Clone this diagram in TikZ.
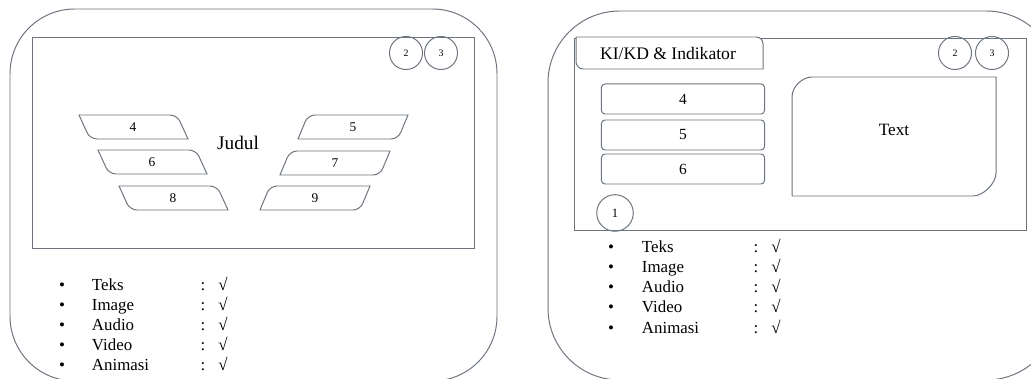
\documentclass[tikz,border=0pt]{standalone}
\usepackage{fontspec}
\setmainfont{Liberation Serif}
\usepackage{tikz}

\definecolor{linegray}{RGB}{108,116,126}

\tikzset{
  frame/.style={draw=linegray, line width=0.7pt},
  btn/.style={frame, circle, minimum size=23.5pt, inner sep=0pt, font=\fontsize{7}{8}\selectfont},
  num/.style={font=\fontsize{9.5}{11}\selectfont},
  item/.style={anchor=base, font=\fontsize{12}{14}\selectfont},
  menubox/.style={frame, rounded corners=2.5pt, minimum width=4.075cm, minimum height=0.75cm, inner sep=0pt, font=\fontsize{11}{13}\selectfont}
}

\begin{document}
\begin{tikzpicture}[x=0.025cm,y=-0.025cm]
\useasboundingbox (0,0) rectangle (1031,379);
\clip (0,0) rectangle (1031,379);

\draw[frame, rounded corners=46pt] (10,9) rectangle (497,381);
\draw[frame] (32,37) rectangle (474,248);
\node[btn] (l2) at (406,53) {2};
\node[btn] (l3) at (441,53) {3};
\node[font=\fontsize{13.7}{16}\selectfont] (judul) at (238,143) {Judul};

\foreach \n/\x/\y in {4/79/115, 6/98/150, 8/119/186}{
  \draw[frame] (\x,\y) -- (\x+91,\y) .. controls (\x+95,\y) and (\x+99.5,\y+3) .. (\x+101,\y+6.5) -- (\x+109,\y+24) -- (\x+18,\y+24) .. controls (\x+14,\y+24) and (\x+9.5,\y+21) .. (\x+8,\y+17.5) -- cycle;
  \node[num] (p\n) at (\x+54,\y+12) {\n};
}
\foreach \n/\x/\y in {5/308/115, 7/290/151, 9/270/186}{
  \draw[frame] (\x+7,\y) -- (\x+100,\y) -- (\x+92.7,\y+17.5) .. controls (\x+91.2,\y+21) and (\x+87,\y+24) .. (\x+83,\y+24) -- (\x-10,\y+24) -- (\x-2.7,\y+6.5) .. controls (\x-1.2,\y+3) and (\x+3,\y) .. (\x+7,\y) -- cycle;
  \node[num] (p\n) at (\x+45,\y+12) {\n};
}

\foreach \t [count=\i] in {Teks,Image,Audio,Video,Animasi}{
  \node[item] (lb\i) at (62,270+20.2*\i) {•};
  \node[item, anchor=base west] (lt\i) at (87,270+20.2*\i) {\t};
  \node[item] (lc\i) at (203,270+20.2*\i) {:};
  \node[item] (lv\i) at (223,270+20.2*\i) {√};
}

\draw[frame, rounded corners=51pt] (548,11) rectangle (1058,380);
\draw[frame] (574,38) rectangle (1026,230);
\draw[frame, fill=white] (576,37) -- (756,37) .. controls (760,37) and (763,40) .. (763,44) -- (763,69) -- (583,69) .. controls (579,69) and (576,65) .. (576,62) -- cycle;
\node[font=\fontsize{12.5}{15}\selectfont] (kikd) at (668,53) {KI/KD \& Indikator};
\node[btn] (r2) at (955,53) {2};
\node[btn] (r3) at (992,53) {3};
\node[btn, minimum size=26pt, font=\fontsize{9}{10}\selectfont] (r1) at (615,213) {1};

\foreach \n/\y in {4/99, 5/135, 6/169}
  \node[menubox] (m\n) at (683,\y) {\n};

\draw[frame] (792,196) -- (792,97) .. controls (792,86) and (803,77) .. (812,77) -- (996,77) -- (996,173) .. controls (996,183.3) and (983.3,196) .. (973,196) -- cycle;
\node[font=\fontsize{12.3}{15}\selectfont] (txt) at (894,130) {Text};

\foreach \t [count=\i] in {Teks,Image,Audio,Video,Animasi}{
  \node[item] (rb\i) at (611,233+20*\i) {•};
  \node[item, anchor=base west] (rt\i) at (637,233+20*\i) {\t};
  \node[item] (rc\i) at (756,233+20*\i) {:};
  \node[item] (rv\i) at (776,233+20*\i) {√};
}

\end{tikzpicture}
\end{document}
